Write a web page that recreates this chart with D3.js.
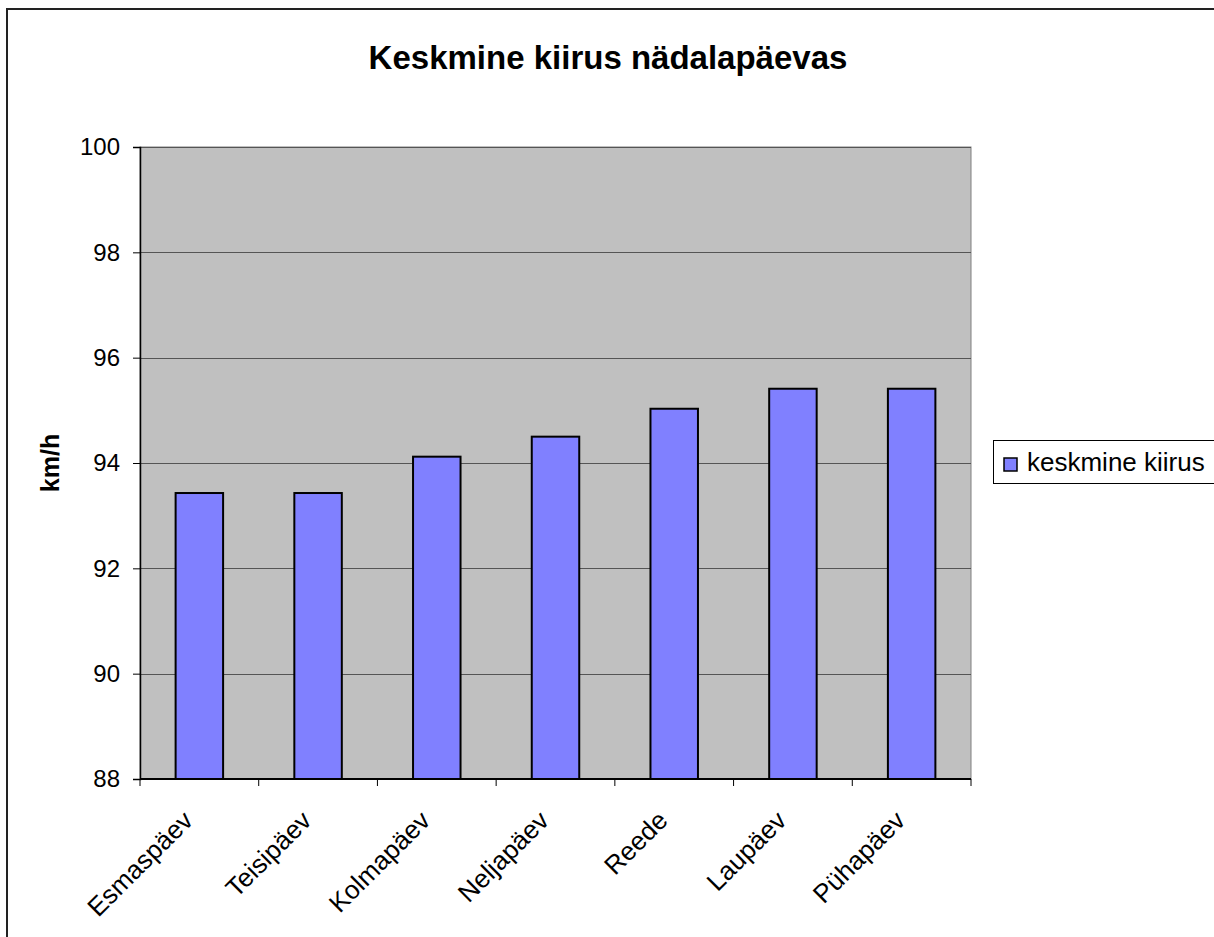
<!DOCTYPE html>
<html>
<head>
<meta charset="utf-8">
<script src="https://cdn.jsdelivr.net/npm/d3@7"></script>
<style>
  body { margin: 0; background: #fff; }
  text { font-family: "Liberation Sans", Arial, sans-serif; }
</style>
</head>
<body>
<div id="chart"></div>
<script>
// data
const days = ["Esmaspäev", "Teisipäev", "Kolmapäev", "Neljapäev", "Reede", "Laupäev", "Pühapäev"]
const speeds = [93.43, 93.43, 94.12, 94.5, 95.03, 95.41, 95.41]
const yTicks = [88, 90, 92, 94, 96, 98, 100]
const seriesName = "keskmine kiirus"

const W = 1214, H = 937
const plot = { left: 140, top: 147, right: 971, bottom: 779 }

const svg = d3.select('#chart')
  .append('svg')
    .attr('width', W)
    .attr('height', H)

// outer chart frame (runs off right/bottom edge)
svg.append('rect')
    .attr('x', 7)
    .attr('y', 9)
    .attr('width', W + 10)
    .attr('height', H + 10)
    .style('fill', 'white')
    .style('stroke', '#222')
    .style('stroke-width', 2)

const x = d3.scaleBand()
  .domain(days)
  .range([plot.left, plot.right])
  .paddingInner(0.6)
  .paddingOuter(0.3)

const y = d3.scaleLinear()
  .domain([88, 100])
  .range([plot.bottom, plot.top])

// plot background
svg.append('rect')
    .attr('x', plot.left)
    .attr('y', plot.top)
    .attr('width', plot.right - plot.left)
    .attr('height', plot.bottom - plot.top)
    .style('fill', '#c0c0c0')
    .style('stroke', '#808080')
    .style('stroke-width', 1)

// gridlines
svg.append('g')
  .selectAll('line')
  .data(yTicks.filter(t => t > 88))
  .enter()
  .append('line')
    .attr('x1', plot.left)
    .attr('x2', plot.right)
    .attr('y1', d => Math.round(y(d)) + 0.5)
    .attr('y2', d => Math.round(y(d)) + 0.5)
    .style('stroke', '#555')
    .style('stroke-width', 1.2)

// bars
svg.append('g')
  .selectAll('rect')
  .data(speeds)
  .enter()
  .append('rect')
    .attr('x', (d, i) => x(days[i]))
    .attr('y', d => y(d))
    .attr('width', x.bandwidth())
    .attr('height', d => y(88) - y(d))
    .style('fill', '#8080ff')
    .style('stroke', '#000')
    .style('stroke-width', 2)

// y axis
const yAxis = svg.append('g')
    .attr('transform', `translate(${plot.left},0)`)
    .call(d3.axisLeft(y).tickValues(yTicks).tickSize(7).tickPadding(13).tickFormat(d3.format('d')))
yAxis.select('.domain').style('stroke', '#000').style('stroke-width', 1.5)
yAxis.selectAll('.tick line').style('stroke', '#000')
yAxis.selectAll('text')
    .style('font-size', '24px')
    .style('fill', '#000')

// x axis: ticks at category boundaries
const step = (plot.right - plot.left) / days.length
const xAxis = svg.append('g')
    .attr('transform', `translate(0,${plot.bottom})`)
xAxis.append('line')
    .attr('x1', plot.left)
    .attr('x2', plot.right)
    .style('stroke', '#000')
    .style('stroke-width', 2)
xAxis.selectAll('line.tick')
  .data(d3.range(days.length + 1))
  .enter()
  .append('line')
    .attr('class', 'tick')
    .attr('x1', i => plot.left + i * step)
    .attr('x2', i => plot.left + i * step)
    .attr('y1', 0)
    .attr('y2', 7)
    .style('stroke', '#000')
xAxis.selectAll('text')
  .data(days)
  .enter()
  .append('text')
    .attr('transform', d => `translate(${x(d) + x.bandwidth() / 2 - 5},${43}) rotate(-45)`)
    .attr('text-anchor', 'end')
    .style('font-size', '26px')
    .text(d => d)

// y axis title
svg.append('text')
    .attr('transform', `translate(59,${(plot.top + plot.bottom) / 2}) rotate(-90)`)
    .attr('text-anchor', 'middle')
    .style('font-size', '25px')
    .style('font-weight', 'bold')
    .text('km/h')

// chart title
svg.append('text')
    .attr('x', 608)
    .attr('y', 69)
    .attr('text-anchor', 'middle')
    .style('font-size', '33px')
    .style('font-weight', 'bold')
    .text('Keskmine kiirus nädalapäevas')

// legend
const legend = svg.append('g')
legend.append('rect')
    .attr('x', 993.5)
    .attr('y', 440.5)
    .attr('width', 226)
    .attr('height', 43)
    .style('fill', 'white')
    .style('stroke', '#000')
    .style('stroke-width', 1)
legend.append('rect')
    .attr('x', 1004)
    .attr('y', 458)
    .attr('width', 13)
    .attr('height', 13)
    .style('fill', '#8080ff')
    .style('stroke', '#000')
    .style('stroke-width', 1.5)
legend.append('text')
    .attr('x', 1027)
    .attr('y', 471)
    .style('font-size', '26px')
    .text(seriesName)
</script>
</body>
</html>
